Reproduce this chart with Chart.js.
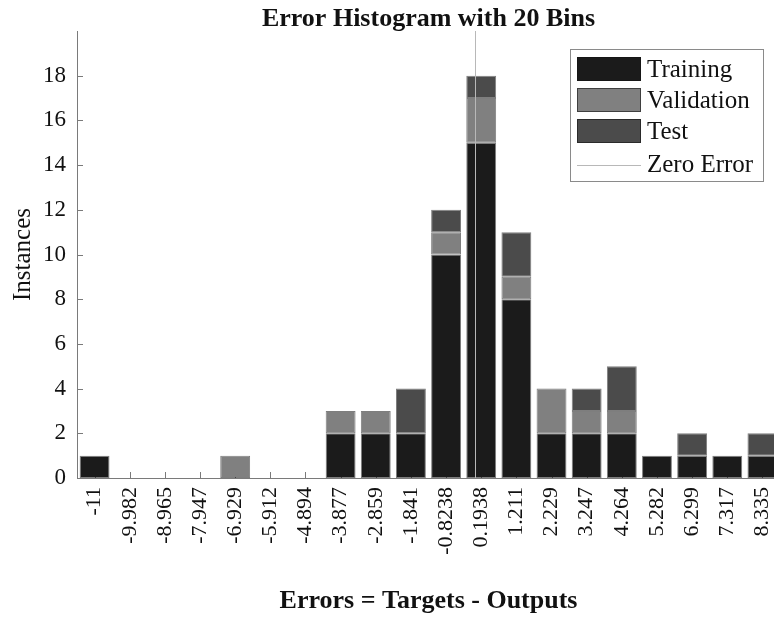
<!DOCTYPE html>
<html>
<head>
<meta charset="utf-8">
<script src="https://cdn.jsdelivr.net/npm/chart.js@4.4.0/dist/chart.umd.min.js"></script>
<style>
  html, body { margin: 0; padding: 0; background: #fff; overflow: hidden; }
  #wrap { width: 774px; height: 630px; overflow: hidden; }
</style>
</head>
<body>
<div id="wrap"><canvas id="histogram" width="780" height="630"></canvas></div>
<script>
// bin centres as printed on the x axis
const binLabels = ["-11", "-9.982", "-8.965", "-7.947", "-6.929", "-5.912", "-4.894",
    "-3.877", "-2.859", "-1.841", "-0.8238", "0.1938", "1.211", "2.229", "3.247",
    "4.264", "5.282", "6.299", "7.317", "8.335"];

const training   = [1, 0, 0, 0, 0, 0, 0, 2, 2, 2, 10, 15, 8, 2, 2, 2, 1, 1, 1, 1];
const validation = [0, 0, 0, 0, 1, 0, 0, 1, 1, 0, 1, 2, 1, 2, 1, 1, 0, 0, 0, 0];
const test       = [0, 0, 0, 0, 0, 0, 0, 0, 0, 2, 1, 1, 2, 0, 1, 2, 0, 1, 0, 1];

const yTicks = [0, 2, 4, 6, 8, 10, 12, 14, 16, 18];
const zeroError = 0;

const serif = "'Liberation Serif', 'Times New Roman', serif";
const colTraining = "#1b1b1b";
const colValidation = "#808080";
const colTest = "#4b4b4b";
const colZero = "#b8b8b8";
const colAxis = "#7a7a7a";

// where the error value 0 falls, in bin-index units of the category axis
const firstBin = parseFloat(binLabels[0]);
const lastBin = parseFloat(binLabels[binLabels.length - 1]);
const binStep = (lastBin - firstBin) / (binLabels.length - 1);
const zeroIndex = (zeroError - firstBin) / binStep;

const legendItems = [
    { text: "Training", fill: colTraining },
    { text: "Validation", fill: colValidation },
    { text: "Test", fill: colTest },
    { text: "Zero Error", line: colZero },
];

const plotTitle = {
    id: "plotTitle",
    afterDraw(chart) {
        const { ctx, chartArea } = chart;
        ctx.save();
        ctx.fillStyle = "#111";
        ctx.font = "bold 26px " + serif;
        ctx.textAlign = "center";
        ctx.textBaseline = "middle";
        ctx.fillText("Error Histogram with 20 Bins", (chartArea.left + chartArea.right) / 2, 19);
        ctx.restore();
    },
};

// MATLAB style ticks pointing into the axes
const innerTicks = {
    id: "innerTicks",
    beforeDatasetsDraw(chart) {
        const { ctx, chartArea, scales } = chart;
        ctx.save();
        ctx.strokeStyle = colAxis;
        ctx.lineWidth = 1;
        ctx.beginPath();
        scales.y.ticks.forEach(t => {
            const py = Math.round(scales.y.getPixelForValue(t.value)) + 0.5;
            ctx.moveTo(chartArea.left, py);
            ctx.lineTo(chartArea.left + 6, py);
        });
        binLabels.forEach((_, i) => {
            const px = Math.round(scales.x.getPixelForValue(i)) + 0.5;
            ctx.moveTo(px, chartArea.bottom);
            ctx.lineTo(px, chartArea.bottom - 6);
        });
        ctx.stroke();
        ctx.restore();
    },
};

const zeroLine = {
    id: "zeroLine",
    afterDatasetsDraw(chart) {
        const { ctx, chartArea, scales } = chart;
        const px = Math.round(scales.x.getPixelForValue(zeroIndex)) + 0.5;
        ctx.save();
        ctx.strokeStyle = colZero;
        ctx.lineWidth = 1;
        ctx.beginPath();
        ctx.moveTo(px, chartArea.top);
        ctx.lineTo(px, chartArea.bottom);
        ctx.stroke();
        ctx.restore();
    },
};

const insideLegend = {
    id: "insideLegend",
    afterDraw(chart) {
        const ctx = chart.ctx;
        const x0 = 570, y0 = 49, w = 193, h = 132;
        ctx.save();
        ctx.fillStyle = "#fff";
        ctx.fillRect(x0, y0, w, h);
        ctx.strokeStyle = "#8a8a8a";
        ctx.lineWidth = 1;
        ctx.strokeRect(x0 + 0.5, y0 + 0.5, w, h);
        ctx.font = "25px " + serif;
        ctx.textBaseline = "middle";
        legendItems.forEach((item, i) => {
            const cy = y0 + 20 + i * 31;
            if (item.fill) {
                ctx.fillStyle = item.fill;
                ctx.fillRect(x0 + 7, cy - 12, 64, 24);
                ctx.strokeStyle = "rgba(20,20,20,0.6)";
                ctx.strokeRect(x0 + 7.5, cy - 11.5, 63, 23);
            } else {
                ctx.strokeStyle = item.line;
                ctx.beginPath();
                ctx.moveTo(x0 + 7, cy + 3.5);
                ctx.lineTo(x0 + 71, cy + 3.5);
                ctx.stroke();
            }
            ctx.fillStyle = "#111";
            ctx.fillText(item.text, x0 + 77, item.fill ? cy + 1 : cy + 3);
        });
        ctx.restore();
    },
};

const barStyle = {
    borderColor: "rgba(20,20,20,0.55)",
    borderWidth: 1,
    borderSkipped: false,
    barPercentage: 0.85,
    categoryPercentage: 1,
};

new Chart(document.getElementById("histogram"), {
    type: "bar",
    data: {
        labels: binLabels,
        datasets: [
            { label: "Training", data: training, backgroundColor: colTraining, ...barStyle },
            { label: "Validation", data: validation, backgroundColor: colValidation, ...barStyle },
            { label: "Test", data: test, backgroundColor: colTest, ...barStyle },
        ],
    },
    options: {
        responsive: false,
        animation: false,
        layout: { padding: { top: 31, right: 0, bottom: 0, left: 0 } },
        plugins: {
            legend: { display: false },
            title: { display: false },
            tooltip: { enabled: false },
        },
        scales: {
            x: {
                stacked: true,
                offset: true,
                grid: { display: false },
                border: { display: true, color: colAxis, width: 1 },
                ticks: {
                    color: "#111",
                    font: { family: serif, size: 22 },
                    minRotation: 90,
                    maxRotation: 90,
                    autoSkip: false,
                    padding: 1,
                },
                title: {
                    display: true,
                    text: "Errors = Targets - Outputs",
                    color: "#111",
                    font: { family: serif, size: 26, weight: "bold" },
                    padding: { top: 0, bottom: 13 },
                },
                afterFit(scale) {
                    scale.height = 152;
                    scale.paddingLeft = 0;
                    scale.paddingRight = 0;
                },
            },
            y: {
                stacked: true,
                min: 0,
                max: 20,
                grid: { display: false },
                border: { display: true, color: colAxis, width: 1 },
                ticks: {
                    color: "#111",
                    font: { family: serif, size: 23 },
                    padding: 3,
                },
                afterBuildTicks(scale) {
                    scale.ticks = yTicks.map(v => ({ value: v }));
                },
                title: {
                    display: true,
                    text: "Instances",
                    color: "#111",
                    font: { family: serif, size: 25 },
                    padding: { top: 8, bottom: 0 },
                },
                afterFit(scale) { scale.width = 77; },
            },
        },
    },
    plugins: [innerTicks, zeroLine, plotTitle, insideLegend],
});
</script>
</body>
</html>
